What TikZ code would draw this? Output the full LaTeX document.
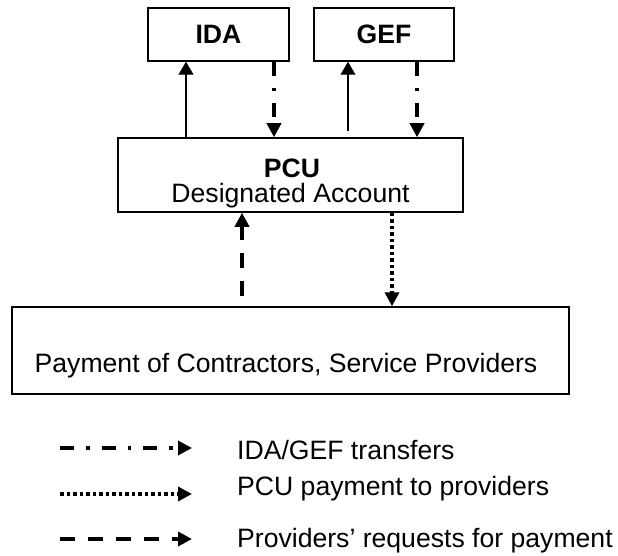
\documentclass[tikz,border=0pt]{standalone}
\usepackage{fontspec}
\setmainfont{Liberation Sans}
\usepackage{tikz}
\usetikzlibrary{arrows.meta}
\usetikzlibrary{calc}
\usetikzlibrary{positioning}

\begin{document}
\begin{tikzpicture}[font=\fontsize{26.6}{24.5}\selectfont, x=1pt, y=-1pt,
        box/.style={draw, line width=1.5pt, inner sep=0pt},
        plain/.style={line width=1.2pt, -{Triangle[length=13pt, width=15pt]}},
        transfer/.style={line width=3.5pt, dash pattern=on 14pt off 12pt on 3.5pt off 12pt, -{Triangle[length=14pt, width=14pt]}},
        payment/.style={line width=3.5pt, dash pattern=on 3.5pt off 3pt, -{Triangle[length=14pt, width=14pt]}},
        request/.style={line width=3.5pt, dash pattern=on 15pt off 13pt, -{Triangle[length=14pt, width=14pt]}}]
            \useasboundingbox (0,0) rectangle (618,556);
            % boxes
            \node[box, minimum width=141pt, minimum height=53pt] (ida) at (218.5,34.5) {\textbf{IDA}};
            \node[box, minimum width=140pt, minimum height=53pt] (gef) at (384,34.5) {\textbf{GEF}};
            \node[box, minimum width=345pt, minimum height=74pt] (pcu) at (290.5,175) {};
            \node[anchor=base, inner sep=0pt] (pcuname) at (292,178) {\textbf{PCU}};
            \node[anchor=base, inner sep=0pt] (pcuacct) at (290.5,202.5) {Designated Account};
            \node[box, minimum width=557pt, minimum height=87pt] (pay) at (290.5,350.5) {};
            \node[anchor=base, inner sep=0pt] (paytext) at (286,372) {Payment of Contractors, Service Providers};
            % flows between the boxes
            \draw[plain] ([xshift=-32.5pt]ida.south |- pcu.north) -- ([xshift=-32.5pt]ida.south);
            \draw[transfer] ([xshift=55.5pt]ida.south) -- ([xshift=55.5pt]ida.south |- pcu.north);
            \draw[plain] ([xshift=-36pt, yshift=6pt]gef.south |- pcu.north) -- ([xshift=-36pt]gef.south);
            \draw[transfer] ([xshift=33pt]gef.south) -- ([xshift=33pt]gef.south |- pcu.north);
            \draw[request] ([yshift=10pt]pay.north -| 242,0) -- (pcu.south -| 242,0);
            \draw[payment] (pcu.south -| 392,0) -- (pay.north -| 392,0);
            % legend
            \coordinate (ltransfera) at (60,448);
            \coordinate (ltransferb) at (192,448);
            \coordinate (lpaymenta) at (60,494);
            \coordinate (lpaymentb) at (192,494);
            \coordinate (lrequesta) at (60,539);
            \coordinate (lrequestb) at (192,539);
            \draw[transfer] (ltransfera) -- (ltransferb);
            \draw[payment] (lpaymenta) -- (lpaymentb);
            \draw[request] (lrequesta) -- (lrequestb);
            \node[anchor=base west, inner sep=0pt] (ttransfer) at (237,459) {IDA/GEF transfers};
            \node[anchor=base west, inner sep=0pt] (tpayment) at (237,495) {PCU payment to providers};
            \node[anchor=base west, inner sep=0pt] (trequest) at (237,547) {Providers’ requests for payment};
        \end{tikzpicture}
\end{document}
